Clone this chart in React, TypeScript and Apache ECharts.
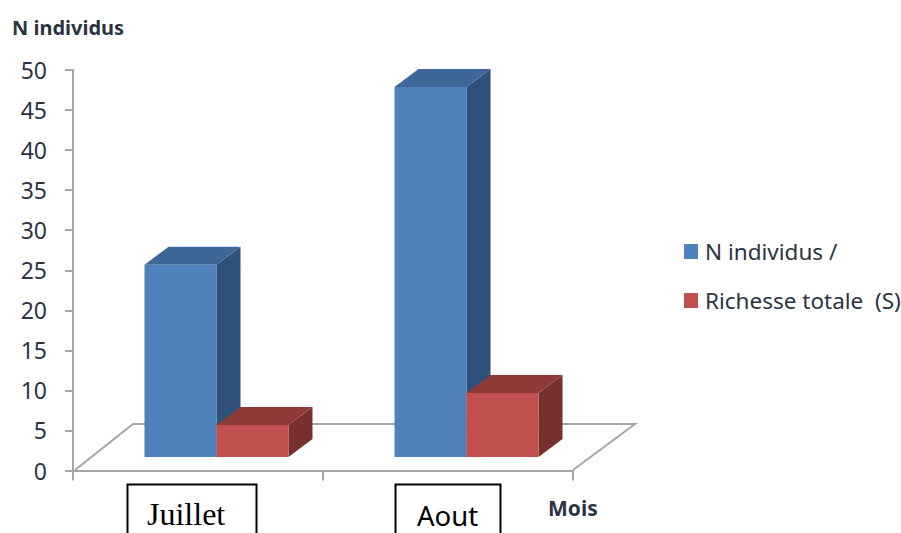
import React, { useEffect, useRef } from "react";
import * as echarts from "echarts";

const categories = ["Juillet", "Aout"];
const seriesNames = ["N individus /", "Richesse totale  (S)"];
const individus = [24, 46.2];
const richesse = [4, 8];
const yMax = 50;
const yStep = 5;

const GRID = { left: 73, top: 70, width: 500, height: 400.5 };
const DEPTH_X = 24;
const DEPTH_Y = 18;
const BASE_SHIFT_X = 18.5;
const BASE_SHIFT_Y = 13.5;
const BAR_RATIO = 0.288;
const AXIS_COLOR = "#a6a6a6";
const TEXT_COLOR = "#2b3442";

const palette = [
  { front: "#4f81bd", top: "#3d6797", side: "#2f5179" },
  { front: "#c0504d", top: "#8e3a38", side: "#77302e" },
];

function makeRenderItem(seriesPos: number) {
  return (_params: any, api: any) => {
    const cat = api.value(0);
    const val = api.value(1);
    const base = api.coord([cat, 0]);
    const tip = api.coord([cat, val]);
    const w = api.size([1, 0])[0] * BAR_RATIO;
    const x0 = base[0] + BASE_SHIFT_X + (seriesPos === 0 ? -w : 0);
    const x1 = x0 + w;
    const y0 = base[1] - BASE_SHIFT_Y;
    const y1 = tip[1] - BASE_SHIFT_Y;
    const c = palette[seriesPos];
    return {
      type: "group",
      children: [
        {
          type: "polygon",
          shape: { points: [[x1, y0], [x1 + DEPTH_X, y0 - DEPTH_Y], [x1 + DEPTH_X, y1 - DEPTH_Y], [x1, y1]] },
          style: { fill: c.side },
        },
        {
          type: "polygon",
          shape: { points: [[x0, y1], [x0 + DEPTH_X, y1 - DEPTH_Y], [x1 + DEPTH_X, y1 - DEPTH_Y], [x1, y1]] },
          style: { fill: c.top },
        },
        {
          type: "rect",
          shape: { x: x0, y: y1, width: w, height: y0 - y1 },
          style: { fill: c.front },
        },
      ],
    };
  };
}

export default function App() {
  const ref = useRef<HTMLDivElement>(null);
  useEffect(() => {
    const chart = echarts.init(ref.current!, null, { renderer: "svg" });
    chart.setOption({
      animation: false,
      backgroundColor: "#ffffff",
      grid: { ...GRID },
      legend: {
        orient: "vertical",
        left: 679,
        top: 235,
        itemWidth: 14,
        itemHeight: 15,
        itemGap: 26,
        icon: "rect",
        data: seriesNames,
        textStyle: { fontFamily: "Noto Sans", fontSize: 22.5, color: TEXT_COLOR, padding: [0, 0, 0, 2] },
      },
      xAxis: {
        type: "category",
        data: categories,
        axisLine: { lineStyle: { color: AXIS_COLOR, width: 2 } },
        axisTick: { show: true, alignWithLabel: false, length: 10, lineStyle: { color: AXIS_COLOR, width: 2 } },
        axisLabel: { show: false },
        splitLine: { show: false },
      },
      yAxis: {
        type: "value",
        min: 0,
        max: yMax,
        interval: yStep,
        axisLine: { show: true, lineStyle: { color: AXIS_COLOR, width: 2 } },
        axisTick: { show: true, length: 8, lineStyle: { color: AXIS_COLOR, width: 2 } },
        axisLabel: { margin: 26, fontFamily: "Noto Sans", fontSize: 23, color: TEXT_COLOR, padding: [4, 0, 0, 0] },
        splitLine: { show: false },
      },
      graphic: [
        {
          type: "polyline",
          z: 0,
          shape: { points: [[75, 470], [133, 424], [635, 424], [573, 470]] },
          style: { stroke: AXIS_COLOR, lineWidth: 2, fill: "none" },
        },
        { type: "text", x: 12, y: 27, style: { text: "N individus", fontFamily: "Noto Sans", fontWeight: "bold", fontSize: 20, fill: TEXT_COLOR, verticalAlign: "middle" } },
        { type: "text", x: 548, y: 508, style: { text: "Mois", fontFamily: "Noto Sans", fontWeight: "bold", fontSize: 21, fill: TEXT_COLOR, verticalAlign: "middle" } },
        { type: "rect", shape: { x: 127.5, y: 484.5, width: 129, height: 70 }, style: { fill: "#fff", stroke: "#000", lineWidth: 2 } },
        { type: "rect", shape: { x: 395.5, y: 484.5, width: 105, height: 70 }, style: { fill: "#fff", stroke: "#000", lineWidth: 2 } },
        { type: "text", x: 147, y: 514, style: { text: categories[0], fontFamily: "Liberation Serif", fontSize: 32, fill: "#000", verticalAlign: "middle" } },
        { type: "text", x: 417, y: 515, style: { text: categories[1], fontFamily: "Noto Sans", fontSize: 27.5, fill: "#000", verticalAlign: "middle" } },
      ],
      series: [
        {
          name: seriesNames[0],
          type: "custom",
          z: 3,
          itemStyle: { color: palette[0].front },
          renderItem: makeRenderItem(0),
          data: individus.map((v, i) => [i, v]),
        },
        {
          name: seriesNames[1],
          type: "custom",
          z: 4,
          itemStyle: { color: palette[1].front },
          renderItem: makeRenderItem(1),
          data: richesse.map((v, i) => [i, v]),
        },
      ],
    });
    return () => chart.dispose();
  }, []);
  return <div ref={ref} style={{ position: "absolute", left: 0, top: 0, width: 901, height: 533 }} />;
}
